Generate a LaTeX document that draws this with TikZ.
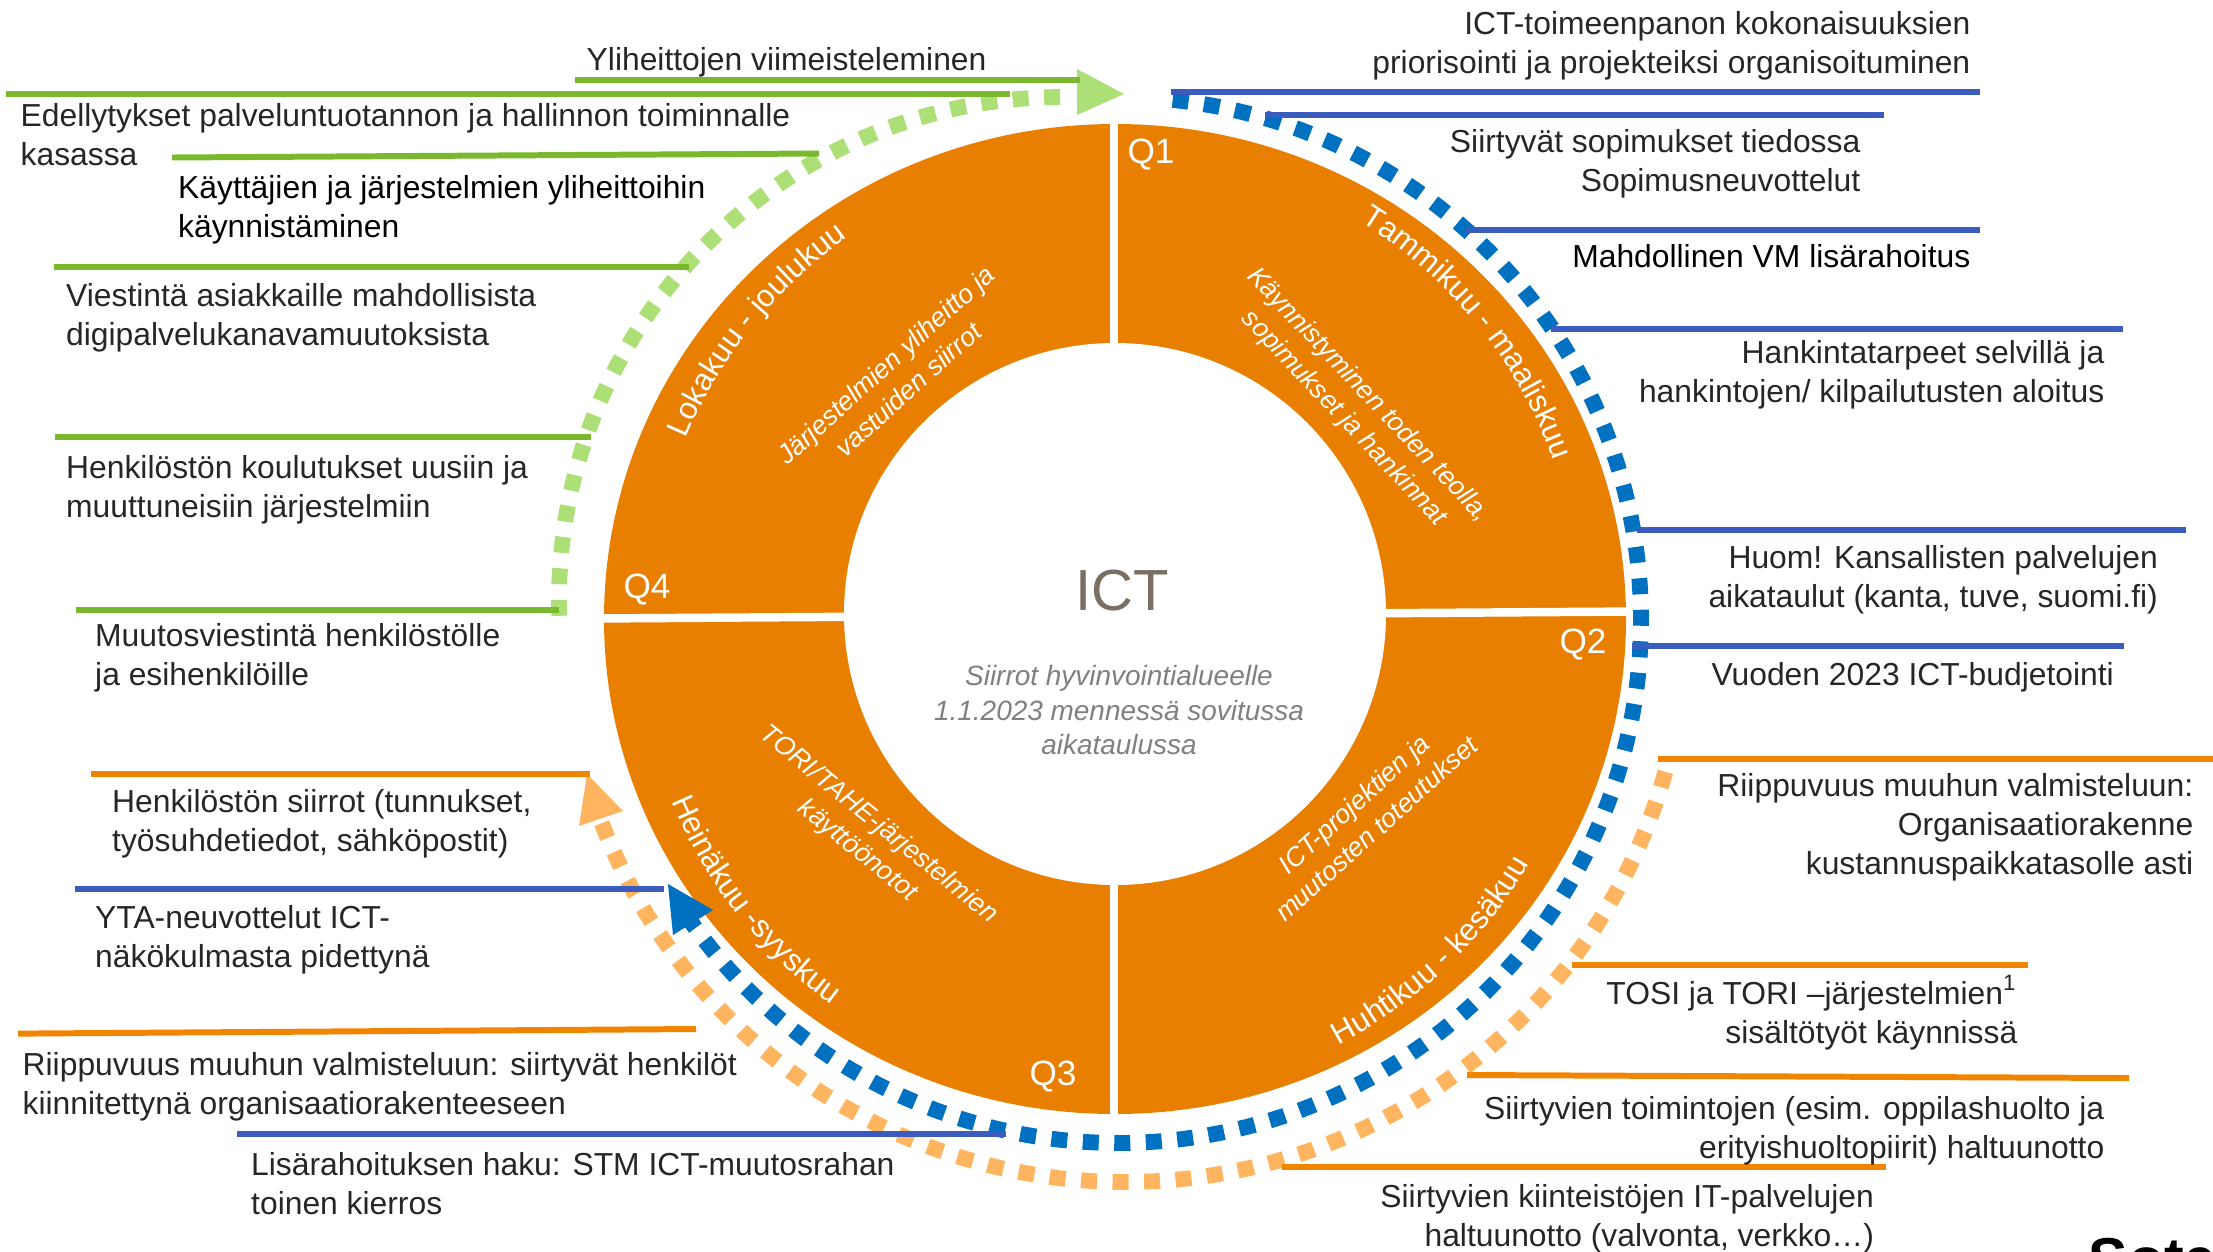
\documentclass[tikz,border=0pt]{standalone}
\usepackage{fontspec}
\setmainfont{Liberation Sans}
\usetikzlibrary{decorations.text}

\definecolor{ringorange}{HTML}{E97F00}
\definecolor{lineorange}{HTML}{F28500}
\definecolor{lightorange}{HTML}{FFB55F}
\definecolor{linegreen}{HTML}{7AB82D}
\definecolor{lightgreen}{HTML}{ACE076}
\definecolor{lineblue}{HTML}{3A5CBF}
\definecolor{dashblue}{HTML}{0070C0}
\definecolor{textgrey}{HTML}{262626}
\definecolor{ictbrown}{HTML}{7B6F63}

\tikzset{
	lbl/.style={inner sep=0pt,text=textgrey,font=\fontsize{9.05}{11.1}\selectfont},
	lblleft/.style={lbl,anchor=west,align=left},
	lblright/.style={lbl,anchor=east,align=right},
	inner/.style={inner sep=0pt,text=white,align=center,font=\fontsize{7.55}{9.5}\selectfont\itshape},
	quarter/.style={inner sep=0pt,text=white,font=\fontsize{10}{11}\selectfont},
	dashring/.style={line width=4.5pt,dash pattern=on .16cm off .155cm},
	leader/.style={line width=1.7pt}
}
\newcommand{\monthlabel}[4]{%text, radius, start angle, end angle
	\path[decorate,decoration={text along path,text align=center,text={|\color{white}\fontsize{8.85}{11}\selectfont|#1}}]
		plot[domain=#3:#4,samples=40] ({\cx+#2*cos(\x)},{\cy-#2*sin(\x)});
}

\begin{document}
\begin{tikzpicture}[x=.01cm,y=-.01cm]
	\def\cx{1115}	%middle of the ring
	\def\cy{618}
	\useasboundingbox (0,0) rectangle (2213,1251);

	\fill[ringorange] (\cx,619) ellipse (511 and 495);		%ring
	\fill[white] (\cx,614) circle (271);					%hole
	\coordinate (gapT) at (1114,110);
	\coordinate (gapB) at (1114,1125);
	\coordinate (gapL) at (595,618.5);
	\coordinate (gapR) at (1635,611.5);
	\draw[white,line width=2.4pt] (gapT) -- (gapB);
	\draw[white,line width=2.4pt] (gapL) -- (gapR);

	%dashed arrows round the ring
	\draw[lightgreen,dashring] plot[domain=181.8:90,samples=120] ({1062+503*cos(\x)},{600-503*sin(\x)});
	\draw[dashblue,dashring] plot[domain=84:-147,samples=160] ({1118+523*cos(\x)},{620-523*sin(\x)});
	\draw[lightorange,dashring] plot[domain=-15.6:-159,samples=160] ({1125+561*cos(\x)},{621-561*sin(\x)});

	\coordinate (headGa) at (1077,69);
	\coordinate (headGb) at (1124,94);
	\coordinate (headGc) at (1077,115);
	\fill[lightgreen] (headGa) -- (headGb) -- (headGc) -- cycle;
	\coordinate (headBa) at (668,884);
	\coordinate (headBb) at (713,910);
	\coordinate (headBc) at (673,935);
	\fill[dashblue] (headBa) -- (headBb) -- (headBc) -- cycle;
	\coordinate (headOa) at (587,774);
	\coordinate (headOb) at (623,811);
	\coordinate (headOc) at (579,826);
	\fill[lightorange] (headOa) -- (headOb) -- (headOc) -- cycle;

	%leader lines over the texts
	\foreach \n/\xa/\ya/\xb/\yb in {ga/575/80.4/1080/80.4,gb/6/94/1010/94,gc/172/157.5/819/153.5,gd/53.5/267/688.6/267,ge/55/437/590.7/437,gf/75.7/610/558.5/610}{
		\coordinate (\n s) at (\xa,\ya);
		\coordinate (\n e) at (\xb,\yb);
		\draw[leader,linegreen] (\n s) -- (\n e);
	}
	\foreach \n/\xa/\ya/\xb/\yb in {ba/1171/92/1980/92,bb/1264.6/114.7/1884/114.7,bc/1465.5/230/1980/230,bd/1550.7/328.6/2123.4/328.6,be/1637/530/2186/530,bf/1632/646/2124/646,bg/75/889.4/664/889.4,bh/237/1133.8/1006/1133.8}{
		\coordinate (\n s) at (\xa,\ya);
		\coordinate (\n e) at (\xb,\yb);
		\draw[leader,lineblue] (\n s) -- (\n e);
	}
	\foreach \n/\xa/\ya/\xb/\yb in {oa/91/774/590/774,ob/18/1033.6/696/1029,oc/1658/759/2213/759,od/1572/965.4/2027.6/965.4,oe/1467/1075/2129/1078,of/1282/1166.5/1886/1166.5}{
		\coordinate (\n s) at (\xa,\ya);
		\coordinate (\n e) at (\xb,\yb);
		\draw[leader,lineorange] (\n s) -- (\n e);
	}

	%middle
	\node[inner sep=0pt,text=ictbrown,font=\fontsize{16.5}{18}\selectfont] (ict) at (1122,591) {ICT};
	\node[inner sep=0pt,text=gray,align=center,font=\fontsize{7.95}{9.7}\selectfont\itshape] (siirrot) at (1119,710) {Siirrot hyvinvointialueelle\\1.1.2023 mennessä sovitussa\\aikataulussa};

	%quarters
	\node[quarter] (q1) at (1151,155) {Q1};
	\node[quarter] (q2) at (1583,645) {Q2};
	\node[quarter] (q3) at (1053,1077) {Q3};
	\node[quarter] (q4) at (647,590) {Q4};

	\monthlabel{Tammikuu - maaliskuu}{466}{61.5}{16.5}
	\monthlabel{Lokakuu - joulukuu}{465}{163.2}{119.2}
	\monthlabel{Heinäkuu -syyskuu}{480}{195.6}{240.6}
	\monthlabel{Huhtikuu - kesäkuu}{482}{-69.5}{-23.5}

	\node[inner,rotate=-46.5] (inq1) at (1356,407) {Käynnistyminen toden teolla,\\sopimukset ja hankinnat};
	\node[inner,rotate=42] (inq2) at (1365,816) {ICT-projektien ja\\muutosten toteutukset};
	\node[inner,rotate=-39] (inq3) at (868,838) {TORI/TAHE-järjestelmien\\käyttöönotot};
	\node[inner,rotate=42] (inq4) at (897,377) {Järjestelmien yliheitto ja\\vastuiden siirrot};

	%texts, left side
	\node[lblleft] (tga) at (586,62) {Yliheittojen viimeisteleminen};
	\node[lblleft] (tgb) at (20,134.5) {Edellytykset palveluntuotannon ja hallinnon toiminnalle\\kasassa};
	\node[lblleft,text=black] (tgc) at (177.5,209.5) {Käyttäjien ja järjestelmien yliheittoihin\\käynnistäminen};
	\node[lblleft] (tgd) at (65.5,317.5) {Viestintä asiakkaille mahdollisista\\digipalvelukanavamuutoksista};
	\node[lblleft] (tge) at (65.5,490) {Henkilöstön koulutukset uusiin ja\\muuttuneisiin järjestelmiin};
	\node[lblleft] (tgf) at (94.5,658) {Muutosviestintä henkilöstölle\\ja esihenkilöille};
	\node[lblleft] (toa) at (111.5,824) {Henkilöstön siirrot (tunnukset,\\työsuhdetiedot, sähköpostit)};
	\node[lblleft] (tbg) at (94.5,940) {YTA-neuvottelut ICT-\\näkökulmasta pidettynä};
	\node[lblleft] (tob) at (22,1086.5) {Riippuvuus muuhun valmisteluun: siirtyvät henkilöt\\kiinnitettynä organisaatiorakenteeseen};
	\node[lblleft] (tbh) at (250.5,1183.5) {Lisärahoituksen haku: STM ICT-muutosrahan\\toinen kierros};

	%texts, right side
	\node[lblright] (tba) at (1971,45.5) {ICT-toimeenpanon kokonaisuuksien\\priorisointi ja projekteiksi organisoituminen};
	\node[lblright] (tbb) at (1861,163.5) {Siirtyvät sopimukset tiedossa\\Sopimusneuvottelut};
	\node[lblright,text=black] (tbc) at (1971,256) {Mahdollinen VM lisärahoitus};
	\node[lblright] (tbd) at (2105,375) {Hankintatarpeet selvillä ja\\hankintojen/ kilpailutusten aloitus};
	\node[lblright] (tbe) at (2158.5,580) {Huom! Kansallisten palvelujen\\aikataulut (kanta, tuve, suomi.fi)};
	\node[lblright] (tbf) at (2114.5,677.5) {Vuoden 2023 ICT-budjetointi};
	\node[lblright] (toc) at (2194,827) {Riippuvuus muuhun valmisteluun:\\Organisaatiorakenne\\kustannuspaikkatasolle asti};
	\node[lblright] (tod) at (2018,1012.5) {TOSI ja TORI –järjestelmien\textsuperscript{1}\\sisältötyöt käynnissä};
	\node[lblright] (toe) at (2105,1130.5) {Siirtyvien toimintojen (esim. oppilashuolto ja\\erityishuoltopiirit) haltuunotto};
	\node[lblright] (tof) at (1874.6,1218.5) {Siirtyvien kiinteistöjen IT-palvelujen\\haltuunotto (valvonta, verkko…)};

	\node[anchor=base west,inner sep=0pt,font=\fontsize{16.8}{18}\selectfont\bfseries] (sote) at (2088,1279) {Sote};
\end{tikzpicture}
\end{document}
